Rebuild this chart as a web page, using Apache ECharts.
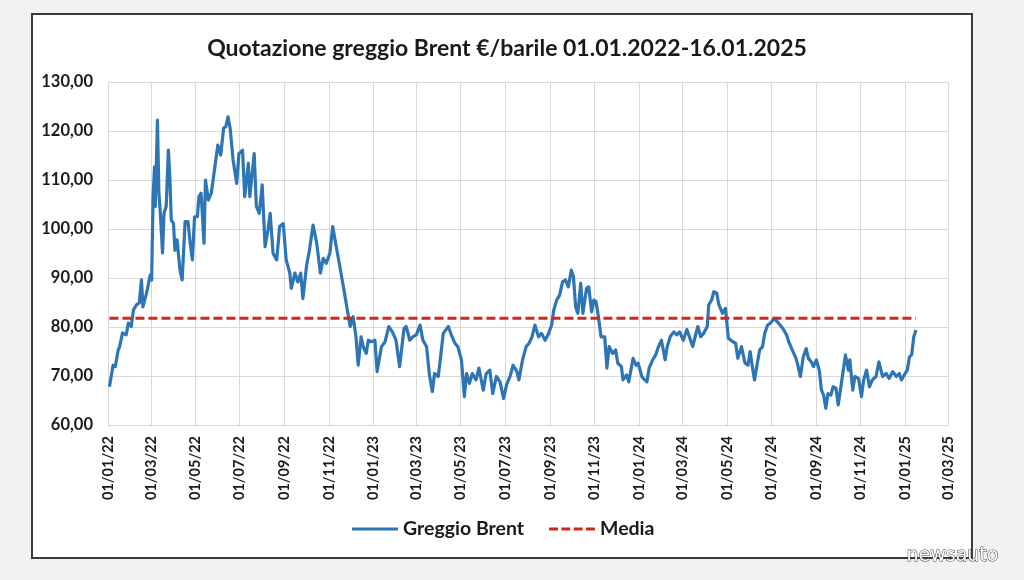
<!DOCTYPE html>
<html>
<head>
<meta charset="utf-8">
<script src="https://cdn.jsdelivr.net/npm/echarts@6/dist/echarts.min.js"></script>
<style>
  html, body { margin: 0; padding: 0; background: #f2f2f2; }
  #frame { position: absolute; left: 31px; top: 13px; width: 938px; height: 542px; background: #ffffff; border: 2px solid #3a3a3a; }
  #chart { position: absolute; left: 0; top: 0; width: 1024px; height: 580px; }
</style>
</head>
<body>
<div id="frame"></div>
<div id="chart"></div>
<script>
const titleText = 'Quotazione greggio Brent €/barile 01.01.2022-16.01.2025';
const seriesNames = ['Greggio Brent', 'Media'];
const axisStart = '2022-01-01';
const axisEnd = '2025-03-01';
const yTicks = [60, 70, 80, 90, 100, 110, 120, 130];
const mediaValue = 81.8;

const dates = [
'2022-01-03','2022-01-08','2022-01-11','2022-01-15','2022-01-17','2022-01-21','2022-01-26','2022-01-29',
'2022-02-02','2022-02-05','2022-02-09','2022-02-13','2022-02-16','2022-02-18','2022-02-23','2022-02-28',
'2022-03-02','2022-03-04','2022-03-06','2022-03-07','2022-03-10','2022-03-12','2022-03-14','2022-03-17',
'2022-03-19','2022-03-22','2022-03-25','2022-03-27','2022-03-29','2022-04-01','2022-04-03','2022-04-06',
'2022-04-10','2022-04-13','2022-04-17','2022-04-21','2022-04-24','2022-04-27','2022-04-30','2022-05-04',
'2022-05-06','2022-05-09','2022-05-13','2022-05-15','2022-05-19','2022-05-23','2022-05-28','2022-06-01',
'2022-06-05','2022-06-09','2022-06-12','2022-06-15','2022-06-18','2022-06-22','2022-06-27','2022-06-30',
'2022-07-05','2022-07-08','2022-07-13','2022-07-15','2022-07-21','2022-07-24','2022-07-28','2022-08-01',
'2022-08-05','2022-08-09','2022-08-12','2022-08-16','2022-08-21','2022-08-25','2022-08-30','2022-09-03',
'2022-09-08','2022-09-10','2022-09-15','2022-09-19','2022-09-23','2022-09-26','2022-10-01','2022-10-05',
'2022-10-10','2022-10-15','2022-10-20','2022-10-24','2022-10-28','2022-11-02','2022-11-06','2022-11-10',
'2022-11-15','2022-11-19','2022-11-23','2022-11-26','2022-11-30','2022-12-04','2022-12-08','2022-12-11',
'2022-12-15','2022-12-18','2022-12-22','2022-12-25','2022-12-29',
'2023-01-03','2023-01-06','2023-01-12','2023-01-17','2023-01-22','2023-01-27','2023-02-01','2023-02-06',
'2023-02-12','2023-02-15','2023-02-20','2023-02-24','2023-03-01','2023-03-06','2023-03-10','2023-03-15',
'2023-03-19','2023-03-23','2023-03-26','2023-03-31','2023-04-02','2023-04-07','2023-04-14','2023-04-18',
'2023-04-23','2023-04-27','2023-05-02','2023-05-06','2023-05-09','2023-05-13','2023-05-17','2023-05-22',
'2023-05-26','2023-06-01','2023-06-05','2023-06-10','2023-06-14','2023-06-19','2023-06-24','2023-06-29',
'2023-07-03','2023-07-08','2023-07-12','2023-07-17','2023-07-20','2023-07-25','2023-07-30','2023-08-03',
'2023-08-07','2023-08-11','2023-08-16','2023-08-20','2023-08-25','2023-08-29','2023-09-03','2023-09-06',
'2023-09-10','2023-09-14','2023-09-18','2023-09-22','2023-09-26','2023-09-30','2023-10-03','2023-10-06',
'2023-10-09','2023-10-13','2023-10-16','2023-10-21','2023-10-24','2023-10-28','2023-10-31','2023-11-03',
'2023-11-06','2023-11-10','2023-11-15','2023-11-18','2023-11-21','2023-11-26','2023-11-30','2023-12-03',
'2023-12-08','2023-12-10','2023-12-15','2023-12-18','2023-12-24','2023-12-28','2023-12-31',
'2024-01-05','2024-01-09','2024-01-12','2024-01-15','2024-01-20','2024-01-24','2024-01-28','2024-02-01',
'2024-02-06','2024-02-09','2024-02-13','2024-02-18','2024-02-22','2024-02-26','2024-03-02','2024-03-07',
'2024-03-12','2024-03-15','2024-03-19','2024-03-22','2024-03-26','2024-03-30','2024-04-04','2024-04-06',
'2024-04-10','2024-04-13','2024-04-17','2024-04-20','2024-04-25','2024-04-29','2024-05-03','2024-05-09',
'2024-05-13','2024-05-16','2024-05-21','2024-05-26','2024-05-30','2024-06-02','2024-06-05','2024-06-08',
'2024-06-11','2024-06-15','2024-06-19','2024-06-22','2024-06-26','2024-06-30','2024-07-05','2024-07-09',
'2024-07-13','2024-07-17','2024-07-22','2024-07-25','2024-07-30','2024-08-04','2024-08-07','2024-08-10',
'2024-08-14','2024-08-18','2024-08-21','2024-08-25','2024-08-28','2024-09-01','2024-09-05','2024-09-08',
'2024-09-11','2024-09-14','2024-09-17','2024-09-21','2024-09-24','2024-09-28','2024-10-01','2024-10-04',
'2024-10-08','2024-10-11','2024-10-15','2024-10-17','2024-10-21','2024-10-24','2024-10-29','2024-11-02',
'2024-11-05','2024-11-09','2024-11-13','2024-11-17','2024-11-22','2024-11-26','2024-12-01','2024-12-06',
'2024-12-10','2024-12-15','2024-12-20','2024-12-24','2024-12-27',
'2025-01-01','2025-01-04','2025-01-07','2025-01-10','2025-01-13','2025-01-16'
];

const prices = [
67.8,72.2,71.9,75.3,76.0,78.8,78.4,80.8,
80.1,83.5,84.5,84.9,89.6,84.1,86.9,90.6,
89.6,106.6,112.7,104.6,122.2,107.3,103.2,95.1,
103.2,104.6,116.1,110.7,101.8,101.2,95.7,97.8,
91.6,89.6,101.5,101.5,97.1,93.7,102.5,102.5,
106.6,107.3,97.1,110.0,105.9,107.3,112.7,117.1,
115.1,120.6,120.9,122.9,120.5,114.1,109.3,115.4,
116.1,106.6,113.4,106.6,115.4,104.6,103.2,109.0,
96.4,99.8,103.2,95.0,93.7,100.5,101.1,93.7,
91.0,87.9,91.0,89.2,91.0,85.8,92.5,95.7,
100.8,97.1,91.0,94.0,93.0,95.0,100.5,97.1,
93.0,89.6,86.2,83.5,80.1,82.1,78.0,72.2,
78.0,76.0,74.6,77.3,77.0,
77.3,70.9,76.0,77.0,80.1,79.0,77.3,71.9,
79.7,80.1,77.3,78.0,78.4,80.4,77.3,76.0,
70.2,66.8,70.5,69.9,72.2,78.7,80.1,78.4,
76.7,76.0,73.3,65.8,70.5,68.5,70.5,69.2,
71.6,67.1,70.5,71.2,66.4,69.9,68.8,65.4,
68.2,70.0,72.2,71.0,69.2,73.3,76.0,76.7,
78.0,80.4,78.0,78.7,77.3,78.4,80.4,83.5,
85.5,86.5,89.2,89.6,88.2,91.6,90.3,84.1,
82.8,88.9,82.8,87.9,88.2,83.1,85.5,85.2,
82.4,78.0,78.0,71.6,76.0,74.6,75.3,72.6,
71.9,69.2,70.2,68.8,73.6,72.2,72.6,
69.9,69.2,68.8,71.6,73.3,74.3,76.0,77.3,
73.3,76.0,78.0,79.0,78.4,79.0,77.3,79.5,
77.3,76.0,78.4,80.1,78.0,78.7,80.1,84.5,
85.5,87.2,86.9,84.5,82.8,83.8,77.7,77.0,
76.7,73.6,76.0,72.6,72.2,75.0,71.9,69.2,
71.9,75.3,76.0,78.7,80.4,80.8,81.8,81.1,
80.4,79.7,78.4,77.0,75.3,73.6,71.9,69.9,
73.9,75.6,73.6,72.9,71.9,73.3,71.2,67.1,
66.1,63.4,66.4,66.1,67.8,67.5,64.1,67.1,
71.2,74.3,71.2,73.3,67.1,69.9,69.5,65.8,
69.2,71.2,67.8,69.2,69.9,72.9,69.9,70.5,
69.5,70.9,69.9,70.5,69.2,
70.5,71.2,73.9,74.3,78.0,79.4
];

// Daily category axis (date axis like the original spreadsheet chart)
function iso(d) {
  const m = d.getUTCMonth() + 1, day = d.getUTCDate();
  return d.getUTCFullYear() + '-' + (m < 10 ? '0' : '') + m + '-' + (day < 10 ? '0' : '') + day;
}
const days = [];
for (let t = Date.parse(axisStart + 'T00:00:00Z'); t <= Date.parse(axisEnd + 'T00:00:00Z'); t += 86400000) {
  days.push(iso(new Date(t)));
}
const dayIndex = {};
days.forEach((d, i) => { dayIndex[d] = i; });

const brentData = dates.map((d, i) => [dayIndex[d], prices[i]]);
const mediaData = [[dayIndex[dates[0]], mediaValue], [dayIndex[dates[dates.length - 1]], mediaValue]];

function isMajor(index, value) {
  const v = days[index];
  if (!v) return false;
  const m = parseInt(v.slice(5, 7), 10);
  return v.slice(8, 10) === '01' && (m % 2 === 1);
}
function fmtDate(value) {
  return value.slice(8, 10) + '/' + value.slice(5, 7) + '/' + value.slice(2, 4);
}

const BLUE = '#2e75b6';
const RED = '#cc2a1e';
const FONT = 'Lato, "Open Sans", sans-serif';
const chart = echarts.init(document.getElementById('chart'), null, { renderer: 'canvas' });
chart.setOption({
  backgroundColor: 'transparent',
  animation: false,
  title: {
    text: titleText,
    left: 502,
    textAlign: 'center',
    top: 32,
    textStyle: { fontFamily: FONT, fontWeight: 'bold', fontSize: 23, color: '#1a1a1a' }
  },
  legend: {
    left: 352,
    top: 519,
    padding: 0,
    itemWidth: 46,
    itemHeight: 3,
    itemGap: 25,
    textStyle: { fontFamily: FONT, fontWeight: 'bold', fontSize: 19.5, color: '#1a1a1a' },
    data: [
      { name: seriesNames[0], icon: 'path://M0,0h46v3h-46z', itemStyle: { color: BLUE } },
      { name: seriesNames[1], icon: 'path://M0,0h9v3h-9z M12.3,0h9v3h-9z M24.6,0h9v3h-9z M36.9,0h9v3h-9z', itemStyle: { color: RED } }
    ]
  },
  grid: { left: 108, right: 76, top: 82, bottom: 155, containLabel: false, outerBoundsMode: 'none' },
  xAxis: {
    type: 'category',
    data: days,
    boundaryGap: false,
    axisLine: { show: false },
    axisTick: { show: false, interval: isMajor },
    splitLine: { show: true, interval: isMajor, lineStyle: { color: '#d9d9d9', width: 1 } },
    axisLabel: {
      interval: isMajor,
      rotate: 90,
      margin: 11,
      formatter: fmtDate,
      fontFamily: FONT, fontWeight: 'bold', fontSize: 14.5, color: '#1a1a1a'
    }
  },
  yAxis: {
    type: 'value',
    min: yTicks[0],
    max: yTicks[yTicks.length - 1],
    interval: yTicks[1] - yTicks[0],
    axisLine: { show: false },
    axisTick: { show: false },
    splitLine: { lineStyle: { color: '#d9d9d9', width: 1 } },
    axisLabel: {
      margin: 15,
      formatter: v => v.toFixed(2).replace('.', ','),
      fontFamily: FONT, fontWeight: 'bold', fontSize: 16.5, color: '#1a1a1a'
    }
  },
  series: [
    {
      name: seriesNames[0],
      type: 'line',
      data: brentData,
      symbol: 'none',
      smooth: false,
      lineStyle: { color: BLUE, width: 3.2, join: 'round' },
      itemStyle: { color: BLUE },
      z: 3
    },
    {
      name: seriesNames[1],
      type: 'line',
      data: mediaData,
      symbol: 'none',
      lineStyle: { color: RED, width: 3, type: [9, 4] },
      itemStyle: { color: RED },
      z: 4
    }
  ],
  graphic: [
    {
      type: 'text',
      left: 906,
      top: 546,
      style: { text: 'newsauto', fontFamily: 'DejaVu Sans, sans-serif', fontSize: 19, fill: '#ffffff', stroke: '#3a3a3a', lineWidth: 1 }
    }
  ]
});
</script>
</body>
</html>
